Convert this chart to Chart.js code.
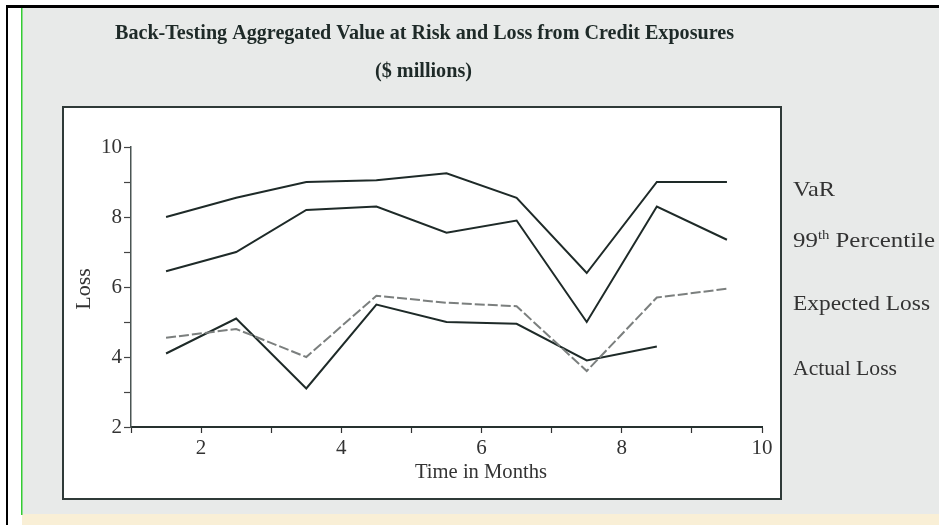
<!DOCTYPE html>
<html>
<head>
<meta charset="utf-8">
<script src="https://cdn.jsdelivr.net/npm/chart.js@4"></script>
<style>
  html, body { margin: 0; padding: 0; background: #ffffff; }
  canvas { display: block; }
</style>
</head>
<body>
<canvas id="myChart" width="939" height="525"></canvas>
<script>
// months (mid-month points) and the four series, in $ millions
const months = [1.5, 2.5, 3.5, 4.5, 5.5, 6.5, 7.5, 8.5, 9.5];
const varValues = [8.0, 8.55, 9.0, 9.05, 9.25, 8.55, 6.4, 9.0, 9.0];
const pct99Values = [6.45, 7.0, 8.2, 8.3, 7.55, 7.9, 5.0, 8.3, 7.35];
const expectedLoss = [4.55, 4.8, 4.0, 5.75, 5.55, 5.45, 3.6, 5.7, 5.95];
const actualLoss = [4.1, 5.1, 3.1, 5.5, 5.0, 4.95, 3.9, 4.3, null];
const xTicks = [2, 4, 6, 8, 10];
const yTicks = [2, 4, 6, 8, 10];

const titleText = "Back-Testing Aggregated Value at Risk and Loss from Credit Exposures";
const subtitleText = "($ millions)";
const xTitle = "Time in Months";
const yTitle = "Loss";

const serif = '"Liberation Serif", "DejaVu Serif", serif';
const ink = '#1e2a28';

function points(values) {
  return months.map((m, i) => ({ x: m, y: values[i] }));
}

// draw text squeezed/stretched to a given width (the scan is not in proportion)
function fitText(ctx, text, x, y, w, font, color) {
  ctx.font = font;
  let m = ctx.measureText(text).width;
  ctx.save();
  ctx.fillStyle = color;
  ctx.textAlign = 'left';
  ctx.textBaseline = 'alphabetic';
  ctx.translate(x, y);
  ctx.scale(w / m, 1);
  ctx.fillText(text, 0, 0);
  ctx.restore();
}

const pagePlugin = {
  id: 'page',
  beforeDraw(chart) {
    let ctx = chart.ctx;
    ctx.save();
    ctx.fillStyle = '#ffffff';
    ctx.fillRect(0, 0, 939, 525);
    // scanned page
    ctx.fillStyle = '#e8eae9';
    ctx.fillRect(22, 8, 917, 506);
    ctx.fillStyle = '#f9efd6';
    ctx.fillRect(22, 514, 917, 11);
    // page edges
    ctx.fillStyle = '#000000';
    ctx.fillRect(6, 5, 933, 3);
    ctx.fillRect(6, 5, 2, 520);
    ctx.fillStyle = '#33cc33';
    ctx.fillRect(21, 8, 1.5, 507);
    // plot frame
    ctx.fillStyle = '#ffffff';
    ctx.fillRect(63, 107, 718, 392);
    ctx.strokeStyle = '#2f3a38';
    ctx.lineWidth = 2;
    ctx.strokeRect(63, 107, 718, 392);
    ctx.restore();
  },
  afterDraw(chart) {
    let ctx = chart.ctx;
    fitText(ctx, titleText, 115, 39, 619, 'bold 21px ' + serif, ink);
    fitText(ctx, subtitleText, 375, 77, 97, 'bold 21px ' + serif, ink);
    fitText(ctx, xTitle, 415, 478, 132, '22px ' + serif, '#333');

    ctx.save();
    ctx.font = '22px ' + serif;
    ctx.fillStyle = '#333';
    ctx.textAlign = 'center';
    ctx.textBaseline = 'middle';
    ctx.translate(84, 289);
    ctx.rotate(-Math.PI / 2);
    ctx.fillText(yTitle, 0, 0);
    ctx.restore();

    // series names at the right of the frame
    fitText(ctx, 'VaR', 793, 196, 42, '22px ' + serif, '#333');
    fitText(ctx, 'Expected Loss', 793, 310, 137, '22px ' + serif, '#333');
    fitText(ctx, 'Actual Loss', 793, 375, 104, '22px ' + serif, '#333');

    // 99th Percentile with superscript
    ctx.save();
    let big = '22px ' + serif, small = '13px ' + serif;
    ctx.font = big; let w1 = ctx.measureText('99').width;
    ctx.font = small; let w2 = ctx.measureText('th').width;
    ctx.font = big; let w3 = ctx.measureText(' Percentile').width;
    ctx.fillStyle = '#333';
    ctx.translate(793, 247);
    ctx.scale(142 / (w1 + w2 + w3), 1);
    ctx.font = big; ctx.fillText('99', 0, 0);
    ctx.font = small; ctx.fillText('th', w1, -8);
    ctx.font = big; ctx.fillText(' Percentile', w1 + w2, 0);
    ctx.restore();
  }
};

function evenOnly(list) {
  return function (v) { return list.includes(v) ? String(v) : ''; };
}

const ctx = document.getElementById('myChart').getContext('2d');
const chart = new Chart(ctx, {
  type: 'line',
  data: {
    datasets: [
      { label: 'VaR', data: points(varValues), borderColor: ink, borderWidth: 2 },
      { label: '99th Percentile', data: points(pct99Values), borderColor: ink, borderWidth: 2 },
      { label: 'Expected Loss', data: points(expectedLoss), borderColor: '#7b7f7e', borderWidth: 2, borderDash: [10, 3] },
      { label: 'Actual Loss', data: points(actualLoss), borderColor: ink, borderWidth: 2 }
    ]
  },
  options: {
    responsive: false,
    animation: false,
    devicePixelRatio: 1,
    elements: { point: { radius: 0, hoverRadius: 0 }, line: { tension: 0, fill: false } },
    layout: { padding: { left: 71, right: 177, top: 147, bottom: 48 } },
    plugins: { legend: { display: false }, title: { display: false }, tooltip: { enabled: false } },
    scales: {
      x: {
        type: 'linear',
        min: 1,
        max: 10,
        afterFit: (scale) => { scale.height = 50; },
        ticks: { stepSize: 1, autoSkip: false, maxRotation: 0, padding: 3, color: '#333',
                 font: { family: serif, size: 21 }, callback: evenOnly(xTicks) },
        grid: { drawOnChartArea: false, tickLength: 6, tickColor: '#333', tickWidth: 1.2 },
        border: { color: '#26312f', width: 2 }
      },
      y: {
        min: 2,
        max: 10,
        afterFit: (scale) => { scale.width = 60; },
        ticks: { stepSize: 1, autoSkip: false, padding: 2, color: '#333',
                 font: { family: serif, size: 21 }, callback: evenOnly(yTicks) },
        grid: { drawOnChartArea: false, tickLength: 7, tickColor: '#444', tickWidth: 1.2 },
        border: { color: '#4a5553', width: 1.5 }
      }
    }
  },
  plugins: [pagePlugin]
});
</script>
</body>
</html>
